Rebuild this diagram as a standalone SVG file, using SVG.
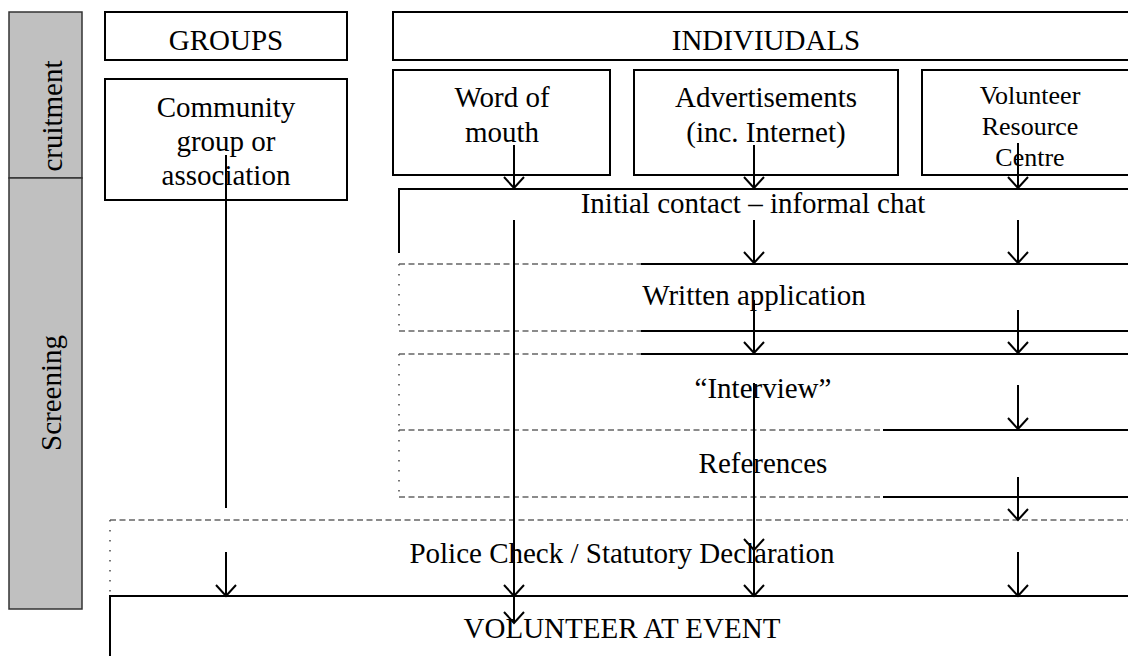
<svg xmlns="http://www.w3.org/2000/svg" width="1128" height="656" viewBox="0 0 1128 656">
<style>
.t{font-family:"Liberation Serif","Times New Roman",serif;font-size:29px;fill:#000;text-anchor:middle}
.s{font-size:26px}
.box{fill:#fff;stroke:#000;stroke-width:2}
.ln{fill:none;stroke:#000;stroke-width:2}
.dash{fill:none;stroke:#666;stroke-width:1.3;stroke-dasharray:6 3.5}
.dot{fill:none;stroke:#555;stroke-width:1.6;stroke-dasharray:1.6 8.4}
.side{fill:#c0c0c0;stroke:#333;stroke-width:1.5}
.arr{fill:none;stroke:#000;stroke-width:2;marker-end:url(#ah)}
</style>
<defs>
<marker id="ah" markerUnits="userSpaceOnUse" orient="auto" overflow="visible" refX="0" refY="0" markerWidth="1" markerHeight="1">
<path d="M-11,-10 L0,0 L-11,10" fill="none" stroke="#000" stroke-width="2"/>
</marker>
</defs>
<rect width="1128" height="656" fill="#fff"/>

<g id="sidebar">
<rect class="side" x="9" y="12" width="73" height="166"/>
<rect class="side" x="9" y="178" width="73" height="431"/>
<text class="t" transform="rotate(-90 62 116)" x="62" y="116">cruitment</text>
<text class="t" transform="rotate(-90 61 393)" x="61" y="393">Screening</text>
</g>

<g id="groups">
<rect class="box" x="105" y="12" width="242" height="48"/>
<text class="t" x="226" y="50">GROUPS</text>
</g>

<g id="individuals">
<rect class="box" x="393" y="12" width="760" height="48"/>
<text class="t" x="766" y="50">INDIVIUDALS</text>
</g>

<g id="community">
<rect class="box" x="105" y="79" width="242" height="121"/>
<text class="t" x="226" y="117">Community</text>
<text class="t" x="226" y="151">group or</text>
<text class="t" x="226" y="185">association</text>
</g>

<g id="word-of-mouth">
<rect class="box" x="393" y="70" width="217" height="105"/>
<text class="t" x="502" y="107">Word of</text>
<text class="t" x="502" y="142">mouth</text>
</g>

<g id="advertisements">
<rect class="box" x="634" y="70" width="264" height="105"/>
<text class="t" x="766" y="107">Advertisements</text>
<text class="t" x="766" y="142">(inc. Internet)</text>
</g>

<g id="vrc">
<rect class="box" x="922" y="70" width="230" height="105"/>
<text class="t s" x="1030" y="104">Volunteer</text>
<text class="t s" x="1030" y="135">Resource</text>
<text class="t s" x="1030" y="166">Centre</text>
</g>

<g id="initial-contact">
<path class="ln" d="M399,253 V189 H1130"/>
<text class="t" x="753" y="213">Initial contact – informal chat</text>
</g>

<g id="written-application">
<path class="dash" d="M399,264 H641 M399,331 H641"/>
<path class="dot" d="M399,264 V331"/>
<path class="ln" d="M641,264 H1130 M641,331 H1130"/>
<text class="t" x="754" y="305">Written application</text>
</g>

<g id="interview">
<path class="dash" d="M399,354 H641 M399,430 H883"/>
<path class="dot" d="M399,354 V430"/>
<path class="ln" d="M641,354 H1130 M883,430 H1130"/>
<text class="t" x="763" y="398">“Interview”</text>
</g>

<g id="references">
<path class="dash" d="M399,497 H883"/>
<path class="dot" d="M399,430 V497"/>
<path class="ln" d="M883,497 H1130"/>
<text class="t" x="763" y="473">References</text>
</g>

<g id="police-check">
<path class="dash" d="M110,520 H1130"/>
<path class="dot" d="M110,520 V592"/>
<text class="t" x="622" y="563">Police Check / Statutory Declaration</text>
</g>

<g id="volunteer-at-event">
<path class="ln" d="M110,660 V596 H1130"/>
<text class="t" x="622" y="638">VOLUNTEER AT EVENT</text>
</g>

<g id="connectors">
<path class="ln" d="M226,155 V508"/>
<path class="arr" d="M226,552 V596"/>
<path class="arr" d="M514,145 V188"/>
<path class="arr" d="M514,220 V596"/>
<path class="arr" d="M514,596 V623"/>
<path class="arr" d="M754,145 V188"/>
<path class="arr" d="M754,220 V263"/>
<path class="arr" d="M754,300 V353"/>
<path class="arr" d="M754,383 V550"/>
<path class="arr" d="M754,550 V596"/>
<path class="arr" d="M1018,143 V188"/>
<path class="arr" d="M1018,220 V263"/>
<path class="arr" d="M1018,310 V353"/>
<path class="arr" d="M1018,385 V429"/>
<path class="arr" d="M1018,477 V520"/>
<path class="arr" d="M1018,552 V596"/>
</g>
</svg>
